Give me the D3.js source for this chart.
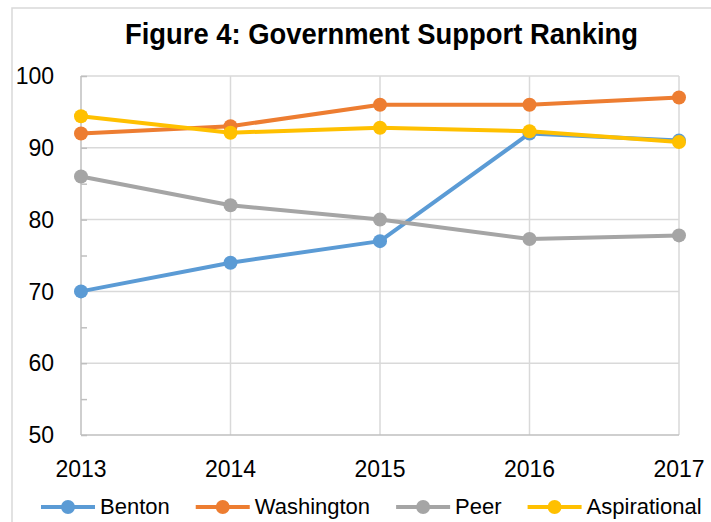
<!DOCTYPE html>
<html>
<head>
<meta charset="utf-8">
<script src="https://cdn.jsdelivr.net/npm/d3@7"></script>
<style>
  html, body { margin: 0; padding: 0; background: #fff; }
  svg { display: block; font-family: "Liberation Sans", Arial, sans-serif; }
</style>
</head>
<body>
<svg id="chart" width="711" height="522"></svg>
<script>
const years = [2013, 2014, 2015, 2016, 2017];
const yTicks = [50, 60, 70, 80, 90, 100];
const seriesNames = ["Benton", "Washington", "Peer", "Aspirational"];
const seriesColors = ["#5B9BD5", "#ED7D31", "#A5A5A5", "#FFC000"];
const benton = [70, 74, 77, 92, 91];
const washington = [92, 93, 96, 96, 97];
const peer = [86, 82, 80, 77.3, 77.8];
const aspirational = [94.4, 92.1, 92.8, 92.3, 90.8];
const titleText = "Figure 4: Government Support Ranking";

const series = [benton, washington, peer, aspirational].map((vals, i) => ({
  name: seriesNames[i], color: seriesColors[i],
  points: vals.map((v, j) => ({ year: years[j], value: v }))
}));

const svg = d3.select("#chart");

// outer chart border
svg.append("path")
  .attr("d", "M12,522 L12,8 L711,8")
  .attr("fill", "none").attr("stroke", "#d9d9d9").attr("stroke-width", 1.5);

// title
svg.append("text")
  .attr("x", 381.5).attr("y", 44)
  .attr("text-anchor", "middle")
  .attr("font-weight", "bold").attr("font-size", 29)
  .attr("textLength", 513).attr("lengthAdjust", "spacingAndGlyphs")
  .attr("fill", "#000")
  .text(titleText);

const x = d3.scaleLinear().domain([2013, 2017]).range([81, 679]);
const y = d3.scaleLinear().domain([50, 100]).range([435, 76]);

// horizontal gridlines
svg.append("g").selectAll("line").data(yTicks.slice(1)).join("line")
  .attr("x1", x(2013)).attr("x2", x(2017))
  .attr("y1", d => y(d)).attr("y2", d => y(d))
  .attr("stroke", "#d9d9d9").attr("stroke-width", 1.5);

// vertical gridlines
svg.append("g").selectAll("line").data(years.slice(1)).join("line")
  .attr("x1", d => x(d)).attr("x2", d => x(d))
  .attr("y1", y(100)).attr("y2", y(50))
  .attr("stroke", "#d9d9d9").attr("stroke-width", 1.5);

// left axis with inward ticks every 5
const yAxis = d3.axisRight(y).tickValues(d3.range(50, 101, 5)).tickSize(6).tickFormat("");
const gy = svg.append("g").attr("transform", `translate(${x(2013)},0)`).call(yAxis);
gy.select(".domain").attr("stroke", "#bfbfbf").attr("stroke-width", 1.5).attr("d", `M0,${y(100)}V${y(50)}`);
gy.selectAll(".tick line").attr("stroke", "#bfbfbf").attr("stroke-width", 1.5);

// bottom axis line
svg.append("line")
  .attr("x1", x(2013)).attr("x2", x(2017))
  .attr("y1", y(50)).attr("y2", y(50))
  .attr("stroke", "#bfbfbf").attr("stroke-width", 1.5);

// y labels
svg.append("g").selectAll("text").data(yTicks).join("text")
  .attr("x", 54).attr("y", d => y(d)).attr("dy", "0.36em")
  .attr("text-anchor", "end").attr("font-size", 23).attr("fill", "#000")
  .text(d => d);

// x labels
svg.append("g").selectAll("text").data(years).join("text")
  .attr("x", d => x(d)).attr("y", 477)
  .attr("text-anchor", "middle").attr("font-size", 23).attr("fill", "#000")
  .text(d => d);

// series lines and markers
const line = d3.line().x(d => x(d.year)).y(d => y(d.value));
const sg = svg.append("g").selectAll("g").data(series).join("g");
sg.append("path")
  .attr("d", d => line(d.points))
  .attr("fill", "none").attr("stroke", d => d.color)
  .attr("stroke-width", 4).attr("stroke-linejoin", "round").attr("stroke-linecap", "round");
sg.selectAll("circle").data(d => d.points.map(p => ({ ...p, color: d.color }))).join("circle")
  .attr("cx", d => x(d.year)).attr("cy", d => y(d.value)).attr("r", 7)
  .attr("fill", d => d.color);

// legend
const legend = svg.append("g");
let lx = 41;
series.forEach(s => {
  const g = legend.append("g");
  g.append("line").attr("x1", lx).attr("x2", lx + 54).attr("y1", 507).attr("y2", 507)
    .attr("stroke", s.color).attr("stroke-width", 4);
  g.append("circle").attr("cx", lx + 27).attr("cy", 507).attr("r", 7).attr("fill", s.color);
  const t = g.append("text").attr("x", lx + 59).attr("y", 514)
    .attr("font-size", 22).attr("fill", "#000").text(s.name);
  const w = t.node().getComputedTextLength();
  lx = lx + 59 + w + 26;
});
</script>
</body>
</html>
